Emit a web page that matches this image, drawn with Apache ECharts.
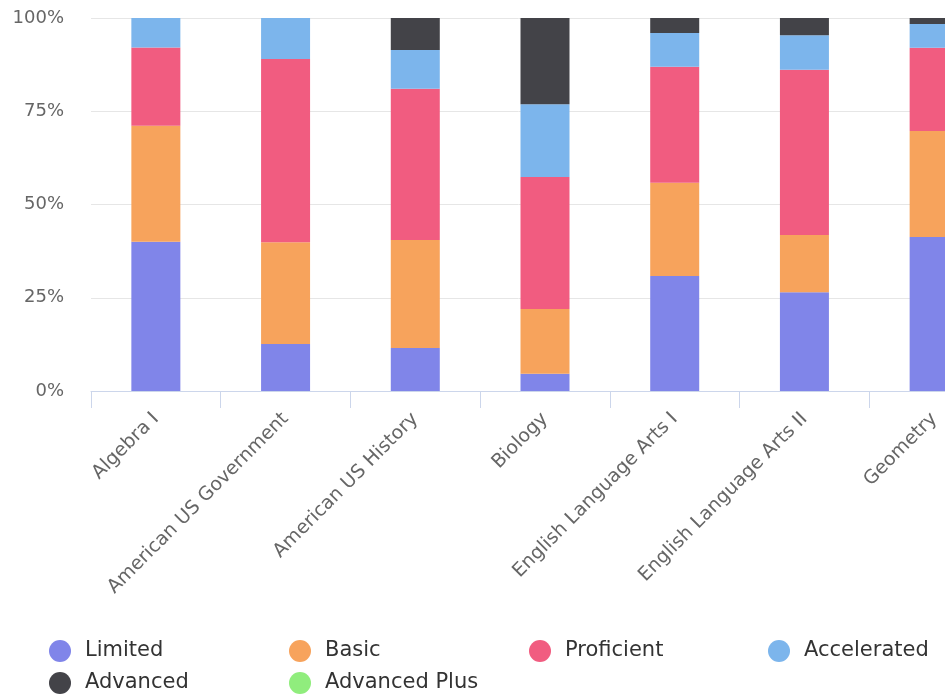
<!DOCTYPE html>
<html>
<head>
<meta charset="utf-8">
<script src="https://cdn.jsdelivr.net/npm/echarts@6/dist/echarts.min.js"></script>
<style>
html,body{margin:0;padding:0;background:#fff;}
#chart{width:945px;height:698px;}
</style>
</head>
<body>
<div id="chart"></div>
<script>
var categories = ['Algebra I','American US Government','American US History','Biology','English Language Arts I','English Language Arts II','Geometry'];
var limited     = [40.0, 12.6, 11.5,  4.6, 30.8, 26.5, 41.3];
var basic       = [31.1, 27.3, 29.0, 17.4, 25.0, 15.3, 28.4];
var proficient  = [21.0, 49.1, 40.5, 35.4, 31.1, 44.3, 22.3];
var accelerated = [ 7.9, 11.0, 10.4, 19.5,  9.1,  9.3,  6.4];
var advanced    = [ 0.0,  0.0,  8.6, 23.1,  4.0,  4.6,  1.6];
var advancedPlus= [ 0, 0, 0, 0, 0, 0, 0];
var yTicks = [0, 25, 50, 75, 100];

var FONT = 'DejaVu Sans';
var seriesDefs = [
  {name:'Limited', data:limited, color:'#8085e9'},
  {name:'Basic', data:basic, color:'#f7a35c'},
  {name:'Proficient', data:proficient, color:'#f15c80'},
  {name:'Accelerated', data:accelerated, color:'#7cb5ec'},
  {name:'Advanced', data:advanced, color:'#434348'},
  {name:'Advanced Plus', data:advancedPlus, color:'#90ed7d'}
];

function legendCol(left, names){
  return {
    left: left, top: 640, orient: 'vertical', padding: 0, height: 58,
    itemWidth: 22, itemHeight: 22, itemGap: 10, icon: 'circle',
    selectedMode: false,
    textStyle: {fontFamily: FONT, fontSize: 21, color: '#333', padding: [0,0,0,9]},
    data: names
  };
}

var chart = echarts.init(document.getElementById('chart'), null, {renderer:'canvas'});
chart.setOption({
  animation: false,
  grid: {left: 91, top: 18, bottom: 307, width: 908, containLabel: false, outerBoundsMode: 'none'},
  legend: [
    legendCol(49, ['Limited','Advanced']),
    legendCol(289, ['Basic','Advanced Plus']),
    legendCol(529, ['Proficient']),
    legendCol(768, ['Accelerated'])
  ],
  xAxis: {
    type: 'category', data: categories, boundaryGap: true,
    axisLine: {lineStyle: {color: '#ccd6eb', width: 1}},
    axisTick: {show: true, length: 17, lineStyle: {color: '#ccd6eb'}},
    axisLabel: {rotate: 45, interval: 0, margin: 25, fontFamily: FONT, fontSize: 19, color: '#666'}
  },
  yAxis: {
    type: 'value', min: yTicks[0], max: yTicks[yTicks.length-1], interval: 25,
    axisLine: {show: false}, axisTick: {show: false},
    axisLabel: {formatter: '{value}%', margin: 27, fontFamily: FONT, fontSize: 18, color: '#666'},
    splitLine: {lineStyle: {color: '#e6e6e6', width: 1}}
  },
  series: seriesDefs.map(function(s){
    return {
      name: s.name, type: 'bar', stack: 'total', data: s.data,
      barWidth: 49, itemStyle: {color: s.color}, color: s.color
    };
  })
});
</script>
</body>
</html>
